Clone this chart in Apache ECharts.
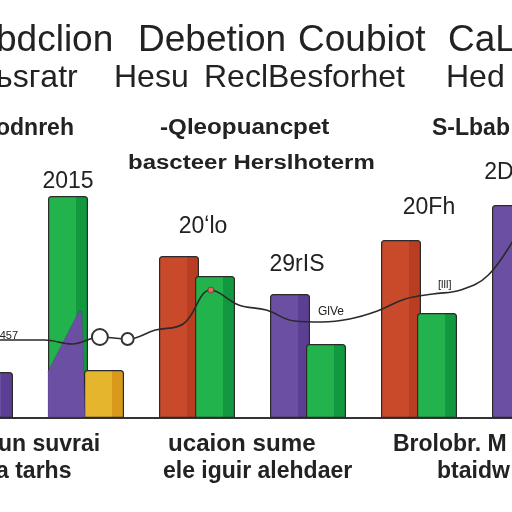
<!DOCTYPE html>
<html><head><meta charset="utf-8">
<script src="https://cdn.jsdelivr.net/npm/echarts@6/dist/echarts.min.js"></script>
<style>html,body{margin:0;padding:0;background:#fff}#c{width:512px;height:512px}</style>
</head><body><div id="c"></div>
<script>
// ---- data ----
const groups = ['G0', 'G1', 'G2', 'G3', 'G4', 'G5'];
const leftValues = ['-', 55.5, 40.5, 31, 44.5, 53.25];
const leftKinds = ['purple', 'green', 'red', 'purple', 'red', 'purple'];
const rightValues = [11.5, 12, 35.5, 18.5, 26.25, '-'];
const rightKinds = ['purple', 'yellow', 'green', 'green', 'green', 'purple'];
const wedgeValues = ['-', 26.5, '-', '-', '-', '-'];
const barTopLabels = ['', '2015', '20ʻlo', '29rIS', '20Fh', '2D'];
const lineSteps = ['s0','s1','s2','s3','s4','s5','s6','s7','s8','s9','s10','s11','s12','s13','s14','s15','s16','s17','s18','s19','s20','s21','s22','s23'];
const lineValues = [19.5, 19.5, 19.5, 19.5, 19.5, 18.5, 20.25, 19.75, 22, 23.5, 32, 28.25, 27, 24.25, 24, 24.75, 26.75, 29.75, 31, 32, 35.75, 45.75, '-', '-'];
const titleWords1 = ['bdclion', 'Debetion', 'Coubiot', 'CaL'];
const titleWords2 = ['ьsгatr', 'Hesu', 'ReclBesforhet', 'Hed'];
const headerWords = ['odnreh', '-Qleopuancpet', 'S-Lbab'];
const subHeader = ['bascteer Herslhoterm'];
const smallNotes = ['·457', 'GlVe', '[lll]'];
const bottomWords1 = ['un suvrai', 'ucaion sume', 'Brolobr. M'];
const bottomWords2 = ['a tarhs', 'ele iguir alehdaer', 'btaidw'];

// ---- styles ----
const palette = {
  green: ['#23b34d', '#12983f'],
  purple: ['#6b4fa3', '#5b3f93'],
  red: ['#c94a2a', '#b83d21'],
  yellow: ['#e4b52d', '#d99a1c']
};
function fill(kind) {
  const c = palette[kind];
  return { type: 'linear', x: 0, y: 0, x2: 1, y2: 0,
    colorStops: [{offset: 0, color: c[0]}, {offset: 0.7, color: c[0]}, {offset: 0.7, color: c[1]}, {offset: 1, color: c[1]}] };
}
const labelOffsets = [[0,0],[0,0],[24,-15],[7,-15],[28,-18],[-13,-18]];
const FONT = '"Liberation Sans", Arial, sans-serif';
function txt(text, x, y, size, weight, sx) {
  return { type: 'text', x: x, y: y, z: 100, scaleX: sx || 1,
    style: { text: text, font: (weight || 'normal') + ' ' + size + 'px ' + FONT, fill: '#222' } };
}

const chart = echarts.init(document.getElementById('c'), null, {renderer: 'canvas'});
const option = {
  backgroundColor: '#ffffff',
  animation: false,
  grid: { left: -80.5, top: 18, width: 666, height: 400, outerBoundsMode: 'none', containLabel: false },
  xAxis: [
    { type: 'category', data: groups, axisLine: { show: true, lineStyle: { color: '#333', width: 2 } },
      axisTick: { show: false }, axisLabel: { show: false }, splitLine: { show: false } },
    { type: 'category', data: lineSteps, show: false }
  ],
  yAxis: { type: 'value', min: 0, max: 100, show: false, splitLine: { show: false } },
  series: [
    { type: 'bar', barWidth: 40, barGap: '-10%',
      data: leftValues.map((v, i) => ({ value: v,
        itemStyle: { color: fill(leftKinds[i]), borderColor: '#2a2a2a', borderWidth: 1.2, borderRadius: [3,3,0,0] },
        label: { show: !!barTopLabels[i], formatter: barTopLabels[i], position: 'top', distance: 3,
          offset: labelOffsets[i], color: '#222', fontSize: 23, fontFamily: FONT } })) },
    { type: 'bar', barWidth: 40, barGap: '-10%',
      data: rightValues.map((v, i) => ({ value: v,
        itemStyle: { color: fill(rightKinds[i]), borderColor: '#2a2a2a', borderWidth: 1.2, borderRadius: [3,3,0,0] } })) },
    { type: 'pictorialBar', z: 3, symbol: 'path://M0,106 L0,60 L31,0 L34,0 L37,106 Z',
      symbolSize: [37, '100%'], symbolPosition: 'start', symbolOffset: [-19.5, 0],
      itemStyle: { color: '#6b4fa3', borderColor: '#2a2a2a', borderWidth: 1 },
      data: wedgeValues },
    { type: 'line', xAxisIndex: 1, z: 5, smooth: 0.4, symbol: 'none',
      lineStyle: { color: '#2b2b2b', width: 1.6 },
      data: lineValues.map((v, i) => {
        if (i === 6 || i === 7) return { value: v, symbol: 'emptyCircle', symbolSize: i === 6 ? 16 : 12,
          itemStyle: { color: '#333', borderColor: '#333', borderWidth: 1.4 } };
        if (i === 10) return { value: v, symbol: 'circle', symbolSize: 6, itemStyle: { color: '#e06a58', borderColor: '#333', borderWidth: 0.6 } };
        return v;
      }) }
  ],
  graphic: [
    txt(titleWords1[0], -4, 22, 37), txt(titleWords1[1], 138, 22, 37), txt(titleWords1[2], 298, 22, 37), txt(titleWords1[3], 448, 22, 37),
    txt(titleWords2[0], -4, 62, 32), txt(titleWords2[1], 114, 62, 32), txt(titleWords2[2], 204, 62, 32), txt(titleWords2[3], 446, 62, 32),
    txt(headerWords[0], -4, 117, 23, 'bold'), txt(headerWords[1], 160, 117, 22, 'bold', 1.1), txt(headerWords[2], 432, 117, 23, 'bold'),
    txt(subHeader[0], 128, 153, 20, 'bold', 1.2),
    txt(smallNotes[0], -4, 330, 11), txt(smallNotes[1], 318, 306, 12), txt(smallNotes[2], 438, 279, 11),
    txt(bottomWords1[0], -2, 433, 23, 'bold'), txt(bottomWords1[1], 168, 433, 23, 'bold', 1.05), txt(bottomWords1[2], 393, 433, 23, 'bold'),
    txt(bottomWords2[0], -4, 460, 23, 'bold'), txt(bottomWords2[1], 163, 460, 23, 'bold'), txt(bottomWords2[2], 437, 460, 23, 'bold')
  ]
};
chart.setOption(option);
</script></body></html>
